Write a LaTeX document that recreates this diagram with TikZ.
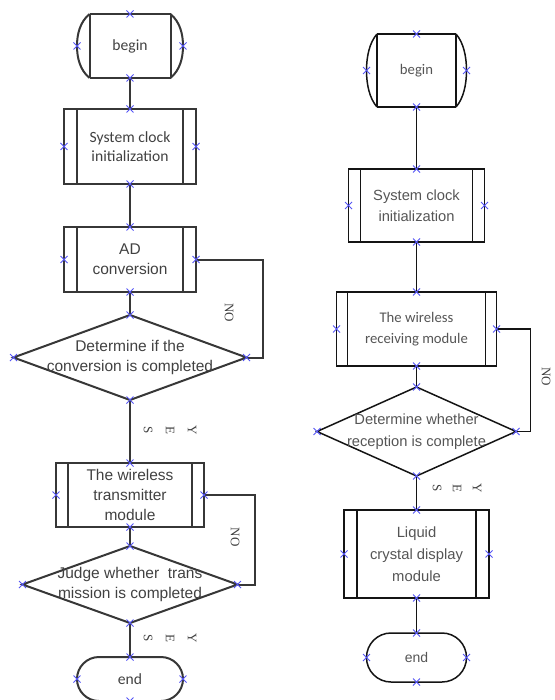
\documentclass[tikz,border=0pt]{standalone}
\usepackage{fontspec}
\setmainfont{Liberation Sans}
\newfontfamily\calib{Carlito}
\newfontfamily\tms{Liberation Serif}
\usetikzlibrary{shapes.geometric,calc}

\definecolor{lineL}{RGB}{55,55,55}
\definecolor{lineR}{RGB}{20,20,20}
\definecolor{txtL}{RGB}{65,65,65}
\definecolor{txtR}{RGB}{85,85,85}
\definecolor{anchorblue}{RGB}{85,85,245}

\tikzset{
  lw/.style={draw=lineL, line width=2pt},
  rw/.style={draw=lineR, line width=1.5pt},
  shp/.style={inner sep=0pt, outer sep=0pt},
  ltxt/.style={text=txtL, font=\fontsize{15.5pt}{20pt}\selectfont, align=center},
  lcal/.style={text=txtL, font=\calib\fontsize{15.6pt}{19pt}\selectfont, align=center},
  rtxt/.style={text=txtR, font=\fontsize{14.7pt}{21.5pt}\selectfont, align=center},
  rcal/.style={text=txtR, font=\calib\fontsize{14.7pt}{21pt}\selectfont, align=center},
  lab/.style={text=txtL, font=\tms\fontsize{13pt}{#1}\selectfont, align=center, rotate=-90},
  lab/.default=22pt,
  dec/.style={diamond, shp, aspect=2},
  xmk/.style={draw=anchorblue, line width=0.9pt}
}

% blue connection marks on the four sides of a node
\newcommand\conncross[1]{%
  \foreach \a in {north,south,east,west}{%
    \draw[xmk] ([shift={(-3.5pt,-3.5pt)}]#1.\a) -- ([shift={(3.5pt,3.5pt)}]#1.\a)
               ([shift={(-3.5pt,3.5pt)}]#1.\a) -- ([shift={(3.5pt,-3.5pt)}]#1.\a);}}

% double side bars of a predefined-process box
\newcommand\sidebars[3]{%
  \draw[#3] ([xshift=#2]#1.north west) -- ([xshift=#2]#1.south west)
            ([xshift=-#2]#1.north east) -- ([xshift=-#2]#1.south east);}

\begin{document}
\begin{tikzpicture}[x=1pt, y=-1pt]
\useasboundingbox (0,0) rectangle (554,700);

%% ---------------- transmitter side ----------------
\node[shp, minimum width=106pt, minimum height=64pt, lcal] (b1) at (130,46) {begin};
\begin{scope}[shift={(b1.center)}]
  \draw[lw] (-40.5,-32) -- (40.5,-32) (-40.5,32) -- (40.5,32)
            (-40.5,-32) -- (-40.5,32) (40.5,-32) -- (40.5,32);
  \draw[lw] (40.5,-32) .. controls (50,-24) and (53,-12) .. (53,0)
                       .. controls (53,12) and (50,24) .. (40.5,32);
  \draw[lw] (-40.5,-32) .. controls (-50,-24) and (-53,-12) .. (-53,0)
                        .. controls (-53,12) and (-50,24) .. (-40.5,32);
\end{scope}

\node[shp, lw, minimum width=132pt, minimum height=75pt, lcal] (s1) at (130,146.5) {System clock\\initialization};
\sidebars{s1}{13pt}{lw}

\node[shp, lw, minimum width=132pt, minimum height=65pt, ltxt] (a1) at (130,259.5) {AD\\conversion};
\sidebars{a1}{13pt}{lw}

\node[dec, lw, minimum width=233pt, minimum height=85pt] (d1) at (130,357.5) {};
\node[ltxt] (d1t) at (d1.center) {Determine if the\\conversion is completed};

\node[shp, lw, minimum width=148pt, minimum height=64pt, ltxt] (t1) at (130,495) {The wireless\\transmitter\\module};
\sidebars{t1}{12pt}{lw}

\node[dec, lw, minimum width=215pt, minimum height=77pt] (d2) at (130,584.5) {};
\node[ltxt] (d2t) at (d2.center) {Judge whether\ \ trans\\mission is completed};

\node[shp, lw, rounded corners=22pt, minimum width=106pt, minimum height=44pt, lcal] (e1) at (130,679) {end};

\draw[lw] (b1.south) -- (s1.north);
\draw[lw] (s1.south) -- (a1.north);
\draw[lw] (a1.south) -- (d1.north);
\draw[lw] (d1.south) -- (t1.north);
\draw[lw] (t1.south) -- (d2.north);
\draw[lw] (d2.south) -- (e1.north);
\draw[lw] (a1.east) -- ++(67,0) |- (d1.east);
\draw[lw] (t1.east) -- ++(51,0) |- (d2.east);

\node[lab] (no1) at (229,313) {NO};
\node[lab] (yes1) at (170,430) {Y\\E\\S};
\node[lab] (no2) at (235,537) {NO};
\node[lab] (yes2) at (170,638) {Y\\E\\S};

%% ---------------- receiver side ----------------
\node[shp, minimum width=100pt, minimum height=73pt, rcal] (b2) at (416.5,70.5) {begin};
\begin{scope}[shift={(b2.center)}]
  \draw[rw] (-39.5,-36.5) -- (39.5,-36.5) (-39.5,36.5) -- (39.5,36.5)
            (-39.5,-36.5) -- (-39.5,36.5) (39.5,-36.5) -- (39.5,36.5);
  \draw[rw] (39.5,-36.5) .. controls (47,-28) and (50,-14) .. (50,0)
                         .. controls (50,14) and (47,28) .. (39.5,36.5);
  \draw[rw] (-39.5,-36.5) .. controls (-47,-28) and (-50,-14) .. (-50,0)
                          .. controls (-50,14) and (-47,28) .. (-39.5,36.5);
\end{scope}

\node[shp, rw, minimum width=136pt, minimum height=73pt, rtxt] (s2) at (416.5,205.5) {System clock\\initialization};
\sidebars{s2}{12pt}{rw}

\node[shp, rw, minimum width=160pt, minimum height=74pt, rcal] (r2) at (416.5,329) {The wireless\\receiving module};
\sidebars{r2}{11pt}{rw}

\node[dec, rw, minimum width=199pt, minimum height=89pt] (d3) at (416.5,431.5) {};
\node[rtxt] (d3t) at (d3.center) {Determine whether\\reception is complete};

\node[shp, rw, minimum width=145pt, minimum height=88pt, rtxt, font=\fontsize{14.8pt}{22pt}\selectfont] (l2) at (416.5,554) {Liquid\\crystal display\\module};
\sidebars{l2}{13pt}{rw}

\node[shp, rw, rounded corners=24.5pt, minimum width=100pt, minimum height=49pt, rtxt, font=\fontsize{14pt}{17pt}\selectfont] (e2) at (416.5,657.5) {end};

\draw[rw] (b2.south) -- (s2.north);
\draw[rw] (s2.south) -- (r2.north);
\draw[rw] (r2.south) -- (d3.north);
\draw[rw] (d3.south) -- (l2.north);
\draw[rw] (l2.south) -- (e2.north);
\draw[rw] (r2.east) -- ++(34,0) |- (d3.east);

\node[lab] (no3) at (546,377) {NO};
\node[lab=20pt] (yes3) at (457,488) {Y\\E\\S};

%% connection marks
\foreach \n in {b1,s1,a1,d1,t1,d2,e1,b2,s2,r2,d3,l2,e2}{\conncross{\n}}
\end{tikzpicture}
\end{document}
